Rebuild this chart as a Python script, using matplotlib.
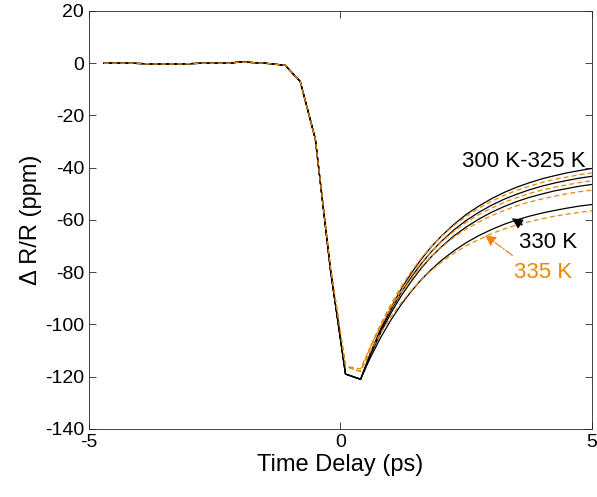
import numpy as np
import matplotlib.pyplot as plt

plt.rcParams['font.family'] = ['Liberation Sans', 'DejaVu Sans']
plt.rcParams['axes.unicode_minus'] = False

# time axis (ps): pre-signal / fall part, then recovery part
t_pre = [-4.7, -4.2, -3.7, -3.2, -2.7, -2.2, -2.0, -1.5, -1.1, -0.8, -0.5, -0.2, 0.1]
t_rec = [0.4, 0.6, 0.8, 1.0, 1.2, 1.4, 1.6, 1.8, 2.0, 2.25, 2.5, 2.75, 3.0,
         3.25, 3.5, 3.75, 4.0, 4.25, 4.5, 4.75, 5.0]

pre_black = [0, 0, -0.3, -0.3, 0, 0, 0.5, 0, -0.8, -7, -29, -79, -119]
pre_orange = [0, 0, -0.3, -0.3, 0, 0, 0.4, 0, -0.8, -7, -29, -78, -116]

# recovery for each temperature (ppm)
r300 = [-121.0, -110.7, -101.7, -93.7, -86.7, -80.6, -75.2, -70.4, -66.3, -61.8, -57.9,
        -54.7, -51.9, -49.5, -47.5, -45.8, -44.3, -43.1, -42.0, -41.1, -40.3]
r305 = [-118.0, -108.3, -99.8, -92.3, -85.7, -80.0, -74.8, -70.3, -66.4, -62.2, -58.6,
        -55.5, -52.9, -50.6, -48.7, -47.1, -45.7, -44.5, -43.6, -42.7, -42.0]
r310 = [-121.0, -111.1, -102.4, -94.7, -88.0, -82.1, -76.9, -72.3, -68.3, -63.9, -60.2,
        -57.1, -54.4, -52.1, -50.2, -48.5, -47.1, -45.9, -44.9, -44.0, -43.3]
r315 = [-118.0, -108.7, -100.5, -93.3, -87.0, -81.5, -76.6, -72.2, -68.5, -64.4, -60.9,
        -58.0, -55.5, -53.3, -51.5, -49.9, -48.6, -47.5, -46.6, -45.7, -45.0]
r320 = [-121.0, -111.5, -103.2, -95.8, -89.3, -83.7, -78.6, -74.2, -70.4, -66.2, -62.7,
        -59.7, -57.1, -54.9, -53.0, -51.4, -50.1, -48.9, -48.0, -47.1, -46.4]
r325 = [-117.0, -108.3, -100.6, -93.9, -87.9, -82.8, -78.1, -74.1, -70.6, -66.7, -63.5,
        -60.8, -58.4, -56.4, -54.6, -53.2, -52.0, -50.9, -50.0, -49.2, -48.6]
r330 = [-121.0, -112.5, -105.0, -98.4, -92.6, -87.5, -83.0, -79.1, -75.6, -71.9, -68.7,
        -66.0, -63.7, -61.7, -60.0, -58.6, -57.4, -56.4, -55.5, -54.7, -54.1]
r335 = [-118.0, -110.2, -103.3, -97.2, -91.9, -87.2, -83.1, -79.4, -76.3, -72.8, -69.9,
        -67.5, -65.3, -63.5, -61.9, -60.7, -59.6, -58.6, -57.8, -57.1, -56.5]

orange = '#E8890C'
t = t_pre + t_rec

fig = plt.figure(figsize=(5.97, 4.97), dpi=100)
ax = fig.add_axes([0.149, 0.137, 0.8426, 0.841])

series = [(r300, 'k'), (r305, 'o'), (r310, 'k'), (r315, 'o'),
          (r320, 'k'), (r325, 'o'), (r330, 'k'), (r335, 'o')]
for rec, kind in series:
    if kind == 'k':
        ax.plot(t, pre_black + rec, color='black', lw=0.9)
    else:
        ax.plot(t, pre_orange + rec, color=orange, lw=0.9, ls=(0, (4, 2.5)))

ax.text(3.65, -37.5, '300 K-325 K', fontsize=16, ha='center', va='center')
ax.text(4.12, -68.5, '330 K', fontsize=16, ha='center', va='center')
ax.text(4.02, -80, '335 K', fontsize=16, ha='center', va='center', color=orange)

ax.annotate('', xy=(3.36, -58.8), xytext=(3.66, -62.5),
            arrowprops=dict(arrowstyle='-|>', color='black', lw=0.9,
                            mutation_scale=16))
ax.annotate('', xy=(2.83, -65.2), xytext=(3.46, -74.2),
            arrowprops=dict(arrowstyle='-|>', color=orange, lw=0.9,
                            ls='-.', mutation_scale=16))

ax.set_xlim(-5, 5)
ax.set_ylim(-140, 20)
ax.set_xticks([-5, 0, 5])
ax.set_yticks(np.arange(-140, 21, 20))
ax.tick_params(direction='in', top=True, right=True, labelsize=14, length=5,
               width=0.6, color='#262626')
for s in ax.spines.values():
    s.set_linewidth(0.6)
    s.set_color('#262626')
ax.set_xlabel('Time Delay (ps)', fontsize=17, labelpad=2)
ax.set_ylabel('\u0394 R/R (ppm)', fontsize=17, labelpad=2)

fig.savefig('out.png', dpi=100)
